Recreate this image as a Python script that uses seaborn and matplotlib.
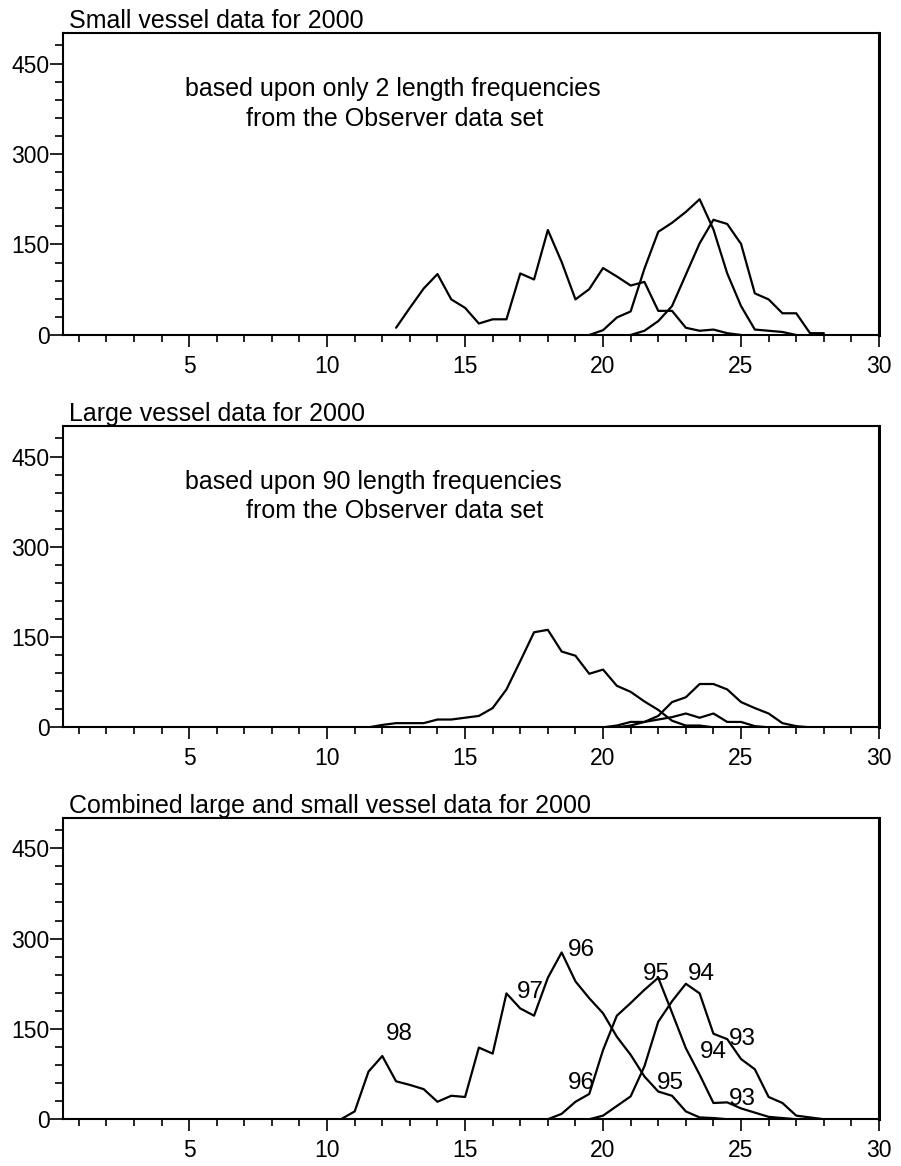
import matplotlib
matplotlib.use("Agg")
import matplotlib.pyplot as plt
import seaborn as sns
import pandas as pd
from matplotlib.ticker import MultipleLocator, FixedLocator

# ---------------- data ----------------
# Panel 1: small vessel data
small_len_a = [12.5, 13.0, 13.5, 14.0, 14.5, 15.0, 15.5, 16.0, 16.5, 17.0, 17.5, 18.0, 18.5,
               19.0, 19.5, 20.0, 20.5, 21.0, 21.5, 22.0, 22.5, 23.0, 23.5, 24.0, 24.5, 25.0]
small_val_a = [12, 45, 77, 101, 59, 45, 19, 26, 26, 102, 92, 174, 121,
               59, 76, 111, 97, 82, 88, 40, 40, 12, 7, 9, 3, 0]
small_len_b = [19.5, 20.0, 20.5, 21.0, 21.5, 22.0, 22.5, 23.0, 23.5, 24.0, 24.5, 25.0, 25.5, 26.0, 26.5, 27.0]
small_val_b = [0, 8, 29, 39, 110, 171, 186, 204, 225, 175, 102, 48, 9, 7, 5, 0]
small_len_c = [21.0, 21.5, 22.0, 22.5, 23.0, 23.5, 24.0, 24.5, 25.0, 25.5, 26.0, 26.5, 27.0, 27.5, 28.0]
small_val_c = [0, 7, 23, 48, 100, 152, 191, 184, 151, 69, 59, 36, 36, 3, 3]

# Panel 2: large vessel data
large_len_a = [11.5, 12.0, 12.5, 13.0, 13.5, 14.0, 14.5, 15.0, 15.5, 16.0, 16.5, 17.0, 17.5,
               18.0, 18.5, 19.0, 19.5, 20.0, 20.5, 21.0, 21.5, 22.0, 22.5, 23.0, 23.5, 24.0]
large_val_a = [0, 4, 7, 7, 7, 13, 13, 16, 19, 32, 63, 110, 158,
               162, 126, 119, 89, 96, 69, 59, 43, 29, 11, 3, 3, 0]
large_len_b = [20.5, 21.0, 21.5, 22.0, 22.5, 23.0, 23.5, 24.0, 24.5, 25.0, 25.5, 26.0, 26.5, 27.0, 27.5]
large_val_b = [0, 3, 9, 19, 42, 50, 72, 72, 63, 42, 32, 23, 7, 2, 0]
large_len_c = [20.0, 20.5, 21.0, 21.5, 22.0, 22.5, 23.0, 23.5, 24.0, 24.5, 25.0, 25.5, 26.0]
large_val_c = [0, 3, 9, 9, 13, 17, 23, 16, 23, 9, 9, 2, 0]

# Panel 3: combined data
comb_len_a = [10.5, 11.0, 11.5, 12.0, 12.5, 13.0, 13.5, 14.0, 14.5, 15.0, 15.5, 16.0, 16.5, 17.0, 17.5,
              18.0, 18.5, 19.0, 19.5, 20.0, 20.5, 21.0, 21.5, 22.0, 22.5, 23.0, 23.5, 24.0, 24.5]
comb_val_a = [0, 13, 79, 105, 63, 57, 50, 29, 39, 37, 119, 109, 209, 184, 172,
              235, 277, 229, 201, 176, 137, 107, 71, 46, 39, 13, 3, 2, 0]
comb_len_b = [18.0, 18.5, 19.0, 19.5, 20.0, 20.5, 21.0, 21.5, 22.0, 22.5, 23.0, 23.5, 24.0,
              24.5, 25.0, 25.5, 26.0, 26.5, 27.0]
comb_val_b = [0, 9, 29, 42, 115, 172, 193, 215, 235, 177, 118, 74, 27, 28, 18, 11, 4, 2, 0]
comb_len_c = [19.5, 20.0, 20.5, 21.0, 21.5, 22.0, 22.5, 23.0, 23.5, 24.0, 24.5, 25.0, 25.5,
              26.0, 26.5, 27.0, 27.5, 28.0]
comb_val_c = [0, 6, 22, 38, 88, 162, 196, 225, 209, 142, 133, 100, 83, 37, 27, 6, 3, 0]

# Year labels in combined panel
year_labels = ["98", "97", "96", "95", "94", "93", "96", "95", "94", "93"]
year_label_x = [12.6, 17.35, 19.2, 21.95, 23.55, 25.05, 19.2, 22.45, 24.0, 25.05]
year_label_y = [142, 212, 281, 241, 241, 133, 60, 60, 112, 33]

titles = ["Small vessel data for 2000",
          "Large vessel data for 2000",
          "Combined large and small vessel data for 2000"]
notes = [("based upon only 2 length frequencies", "from the Observer data set"),
         ("based upon 90 length frequencies", "from the Observer data set"),
         None]

x_major = [5, 10, 15, 20, 25, 30]
y_major = [0, 150, 300, 450]

# ---------------- figure ----------------
sns.set_style("ticks")
plt.rcParams['font.family'] = ['Liberation Sans', 'DejaVu Sans']
plt.rcParams['text.color'] = 'black'
plt.rcParams['axes.labelcolor'] = 'black'
plt.rcParams['xtick.color'] = 'black'
plt.rcParams['ytick.color'] = 'black'

fig = plt.figure(figsize=(9.01, 11.66), dpi=100)
positions = [[0.0696, 0.7127, 0.906, 0.2587],
             [0.0696, 0.3762, 0.906, 0.2581],
             [0.0696, 0.0401, 0.906, 0.2582]]

panels = [
    [(small_len_a, small_val_a), (small_len_b, small_val_b), (small_len_c, small_val_c)],
    [(large_len_a, large_val_a), (large_len_b, large_val_b), (large_len_c, large_val_c)],
    [(comb_len_a, comb_val_a), (comb_len_b, comb_val_b), (comb_len_c, comb_val_c)],
]

for i, pos in enumerate(positions):
    ax = fig.add_axes(pos)
    for xs, ys in panels[i]:
        df = pd.DataFrame({"length": xs, "freq": ys})
        sns.lineplot(data=df, x="length", y="freq", ax=ax, color="black",
                     linewidth=1.6, errorbar=None, sort=False)
    ax.set_xlim(0.42, 30)
    ax.set_ylim(0, 500)
    ax.set_xlabel("")
    ax.set_ylabel("")
    ax.xaxis.set_major_locator(FixedLocator(x_major))
    ax.xaxis.set_minor_locator(MultipleLocator(1))
    ax.yaxis.set_major_locator(FixedLocator(y_major))
    ax.yaxis.set_minor_locator(MultipleLocator(30))
    ax.set_xticklabels([str(v) for v in x_major])
    ax.set_yticklabels([str(v) for v in y_major])
    ax.tick_params(axis="x", which="major", direction="out", length=8.6, width=1.2,
                   pad=5.5, labelsize=16.5, colors="black")
    ax.tick_params(axis="x", which="minor", direction="out", length=5, width=1.2, colors="black")
    ax.tick_params(axis="y", which="major", direction="out", length=9.4, width=1.2,
                   pad=0, labelsize=16.5, colors="black")
    ax.tick_params(axis="y", which="minor", direction="out", length=5.8, width=1.2, colors="black")
    for side in ["left", "bottom", "top"]:
        ax.spines[side].set_visible(True)
        ax.spines[side].set_linewidth(1.5)
        ax.spines[side].set_color("black")
    ax.spines["right"].set_visible(True)
    ax.spines["right"].set_linewidth(2.2)
    ax.spines["right"].set_color("black")

    ax.text(0.0077, 1 + 5.5 / 301, titles[i], transform=ax.transAxes,
            ha="left", va="baseline", fontsize=18, color="black")
    if notes[i] is not None:
        ax.text(0.1498, 0.792, notes[i][0], transform=ax.transAxes,
                ha="left", va="baseline", fontsize=18, color="black")
        ax.text(0.2242, 0.694, notes[i][1], transform=ax.transAxes,
                ha="left", va="baseline", fontsize=18, color="black")
    if i == 2:
        for s, lx, ly in zip(year_labels, year_label_x, year_label_y):
            ax.text(lx, ly, s, ha="center", va="center", fontsize=17.5, color="black")

fig.savefig("out.png", dpi=100)
